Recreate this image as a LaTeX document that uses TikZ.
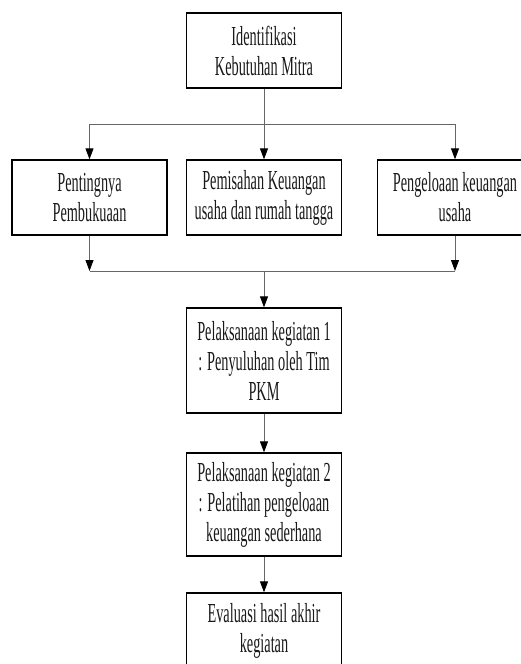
\documentclass[tikz,border=0pt]{standalone}
\usepackage{fontspec}
\setmainfont[FakeStretch=0.52]{Liberation Serif}
\usetikzlibrary{arrows.meta}
\begin{document}
\begin{tikzpicture}[x=1pt, y=-1pt,
    step box/.style={draw=black, line width=1.3pt, minimum width=155pt, minimum height=75pt, inner sep=0pt, align=center, font=\fontsize{27.5}{30}\selectfont, text=black!90},
    flow/.style={draw=black!60, line width=0.9pt},
    arr/.style={flow, -{Triangle[width=8pt, length=11pt, color=black]}}]
    \useasboundingbox (0, 0) rectangle (521, 664);
    \clip (0, 0) rectangle (521, 664);
    %Nodes
    \node[step box] at (264, 50.5) (ident) {Identifikasi\\Kebutuhan Mitra};
    \node[step box] at (89.5, 197.5) (pent) {Pentingnya\\Pembukuaan};
    \node[step box] at (264, 197.5) (pemis) {Pemisahan Keuangan\\usaha dan rumah tangga};
    \node[step box] at (455, 197.5) (pengel) {Pengeloaan keuangan\\usaha};
    \node[step box, minimum height=105pt] at (264, 360.5) (laks1) {Pelaksanaan kegiatan 1\\: Penyuluhan oleh Tim\\PKM};
    \node[step box, minimum height=103pt] at (264, 504.5) (laks2) {Pelaksanaan kegiatan 2\\: Pelatihan pengeloaan\\keuangan sederhana};
    \node[step box] at (264, 630.5) (eval) {Evaluasi hasil akhir\\kegiatan};

    \coordinate (split) at (264, 124);
    \coordinate (join) at (264, 271);
    \coordinate (joinL) at (pent |- join);
    \coordinate (joinR) at (pengel |- join);

    %Lines
    \draw[arr] (ident) -- (pemis);
    \draw[arr] (split) -| (pent);
    \draw[arr] (split) -| (pengel);
    \draw[arr] (pent) -- (joinL);
    \draw[arr] (pengel) -- (joinR);
    \draw[flow] (joinL) -- (joinR);
    \draw[arr] (join) -- (laks1);
    \draw[arr] (laks1) -- (laks2);
    \draw[arr] (laks2) -- (eval);
\end{tikzpicture}
\end{document}
